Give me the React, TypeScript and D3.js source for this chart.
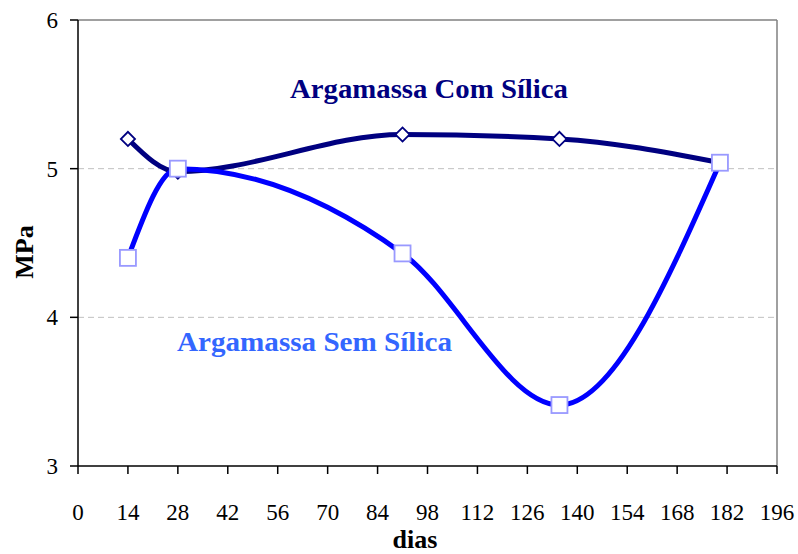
import React from "react";
import * as d3 from "d3";

const days = [14, 28, 91, 135, 180];
const comSilica = [5.2, 4.98, 5.23, 5.2, 5.04];
const semSilica = [4.4, 5.0, 4.43, 3.41, 5.04];
const xTicks = [0, 14, 28, 42, 56, 70, 84, 98, 112, 126, 140, 154, 168, 182, 196];
const yTicks = [3, 4, 5, 6];

const W = 798, H = 554;
const left = 78, right = 777, top = 20, bottom = 466;

export default function App() {
  const x = d3.scaleLinear().domain([0, 196]).range([left, right]);
  const y = d3.scaleLinear().domain([3, 6]).range([bottom, top]);
  const line = d3
    .line<[number, number]>()
    .x((d) => x(d[0]))
    .y((d) => y(d[1]))
    .curve(d3.curveMonotoneX);
  const comPts = days.map((d, i) => [d, comSilica[i]] as [number, number]);
  const semPts = days.map((d, i) => [d, semSilica[i]] as [number, number]);
  const serif = "'Liberation Serif', 'DejaVu Serif', serif";

  return (
    <svg width={W} height={H} style={{ position: "absolute", left: 0, top: 0, background: "#fff" }}>
      <rect x={0} y={0} width={W} height={H} fill="#fff" />
      {[4, 5].map((v) => (
        <line key={v} x1={left} x2={right} y1={y(v)} y2={y(v)} stroke="#c0c0c0" strokeDasharray="6,4" strokeWidth={1} />
      ))}
      <line x1={left} x2={right} y1={y(6)} y2={y(6)} stroke="#808080" strokeWidth={1.5} />
      <line x1={right} x2={right} y1={top} y2={bottom} stroke="#808080" strokeWidth={1.5} />
      <line x1={left} x2={left} y1={top} y2={bottom} stroke="#000" strokeWidth={1.5} />
      <line x1={left} x2={right} y1={bottom} y2={bottom} stroke="#000" strokeWidth={1.5} />
      {yTicks.map((v) => (
        <g key={v}>
          <line x1={left - 8} x2={left} y1={y(v)} y2={y(v)} stroke="#000" strokeWidth={1.5} />
          <text x={58} y={y(v) + 8} textAnchor="end" fontFamily={serif} fontSize={23}>
            {v}
          </text>
        </g>
      ))}
      {xTicks.map((v) => (
        <g key={v}>
          <line x1={x(v)} x2={x(v)} y1={bottom} y2={bottom + 8} stroke="#000" strokeWidth={1.5} />
          <text x={x(v)} y={520} textAnchor="middle" fontFamily={serif} fontSize={23}>
            {v}
          </text>
        </g>
      ))}
      <path d={line(comPts) || ""} fill="none" stroke="#000080" strokeWidth={5} />
      <path d={line(semPts) || ""} fill="none" stroke="#0000ff" strokeWidth={5} />
      {comPts.map((p, i) => (
        <rect
          key={"c" + i}
          x={x(p[0]) - 5}
          y={y(p[1]) - 5}
          width={10}
          height={10}
          fill="#fff"
          stroke="#000080"
          strokeWidth={1.8}
          transform={`rotate(45 ${x(p[0])} ${y(p[1])})`}
        />
      ))}
      {semPts.map((p, i) => (
        <rect
          key={"s" + i}
          x={x(p[0]) - 8}
          y={y(p[1]) - 8}
          width={16}
          height={16}
          fill="#fff"
          stroke="#9999ff"
          strokeWidth={1.8}
        />
      ))}
      <text x={429} y={98} textAnchor="middle" fontFamily={serif} fontWeight="bold" fontSize={27} fill="#000080"
        textLength={278} lengthAdjust="spacingAndGlyphs">
        Argamassa Com Sílica
      </text>
      <text x={314.5} y={351} textAnchor="middle" fontFamily={serif} fontWeight="bold" fontSize={27} fill="#3366ff"
        textLength={275} lengthAdjust="spacingAndGlyphs">
        Argamassa Sem Sílica
      </text>
      <text x={415} y={548} textAnchor="middle" fontFamily={serif} fontWeight="bold" fontSize={26}>
        dias
      </text>
      <text
        transform={`translate(33, 252) rotate(-90)`}
        textAnchor="middle"
        fontFamily={serif}
        fontWeight="bold"
        fontSize={26}
      >
        MPa
      </text>
    </svg>
  );
}
